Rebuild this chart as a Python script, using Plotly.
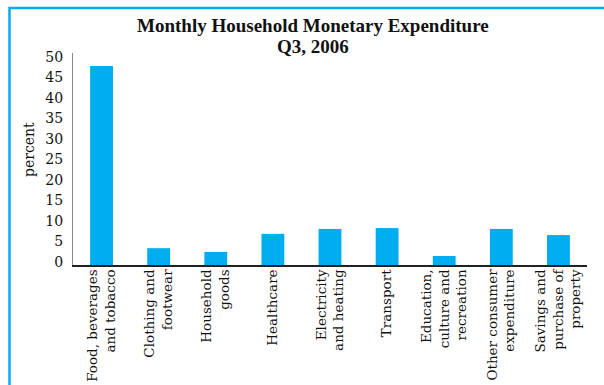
import plotly.graph_objects as go

# Monthly household monetary expenditure by category, Q3 2006 (percent)
categories = [
    "Food, beverages<br>and tobacco",
    "Clothing and<br>footwear",
    "Household<br>goods",
    "Healthcare",
    "Electricity<br>and heating",
    "Transport",
    "Education,<br>culture and<br>recreation",
    "Other consumer<br>expenditure",
    "Savings and<br>purchase of<br>property",
]
percent = [48.5, 4.1, 3.2, 7.6, 8.8, 9.0, 2.2, 8.8, 7.3]
y_ticks = [0, 5, 10, 15, 20, 25, 30, 35, 40, 45, 50]
title_lines = ["Monthly Household Monetary Expenditure", "Q3, 2006"]

BLUE = "#00AEEF"
SERIF = "DejaVu Serif"
TITLE_FONT = "Liberation Serif"

# plot area in pixels: x 73..587, y 53..265
PL, PR, PT, PB = 73, 587, 53, 265
PW, PH = PR - PL, PB - PT


def px_x(x):
    return (x - PL) / PW


def px_y(y):
    return (PB - y) / PH


fig = go.Figure(
    go.Bar(
        x=categories,
        y=percent,
        marker=dict(color=BLUE, line=dict(width=0)),
        width=0.4,
    )
)

title_annotations = [
    dict(
        text=f"<b>{line}</b>",
        xref="paper",
        yref="paper",
        x=px_x(312.5),
        y=px_y(yc),
        xanchor="center",
        yanchor="middle",
        showarrow=False,
        font=dict(family=TITLE_FONT, size=19, color="#111111"),
    )
    for line, yc in zip(title_lines, [25, 47])
]

fig.update_layout(
    width=604,
    height=385,
    autosize=False,
    margin=dict(l=PL, r=604 - PR, t=PT, b=385 - PB, autoexpand=False),
    paper_bgcolor="white",
    plot_bgcolor="white",
    showlegend=False,
    font=dict(family=SERIF, color="#111111"),
    xaxis=dict(
        showline=True,
        linecolor="#222222",
        linewidth=2,
        showgrid=False,
        ticks="",
        tickangle=-90,
        automargin=False,
        ticklabelstandoff=-3,
        tickfont=dict(family=SERIF, size=13.5, color="#111111"),
        fixedrange=True,
    ),
    yaxis=dict(
        range=[0, 51.7],
        tickvals=y_ticks,
        showline=True,
        linecolor="#888888",
        linewidth=1,
        showgrid=False,
        zeroline=False,
        ticks="",
        automargin=False,
        ticklabelshift=-3,
        ticklabelstandoff=6,
        tickfont=dict(family=SERIF, size=14, color="#111111"),
        fixedrange=True,
    ),
    annotations=title_annotations
    + [
        dict(
            text="percent",
            textangle=-90,
            xref="paper",
            yref="paper",
            x=px_x(29),
            y=px_y(150),
            xanchor="center",
            yanchor="middle",
            showarrow=False,
            font=dict(family=SERIF, size=14, color="#111111"),
        ),
    ],
    shapes=[
        # open frame around the chart (left and top edges visible)
        dict(
            type="rect",
            xref="paper",
            yref="paper",
            x0=px_x(9.5),
            x1=1.2,
            y0=-0.8,
            y1=px_y(8),
            line=dict(color=BLUE, width=2.5),
            fillcolor="rgba(0,0,0,0)",
            layer="below",
        )
    ],
)

fig.write_html("out.html")
